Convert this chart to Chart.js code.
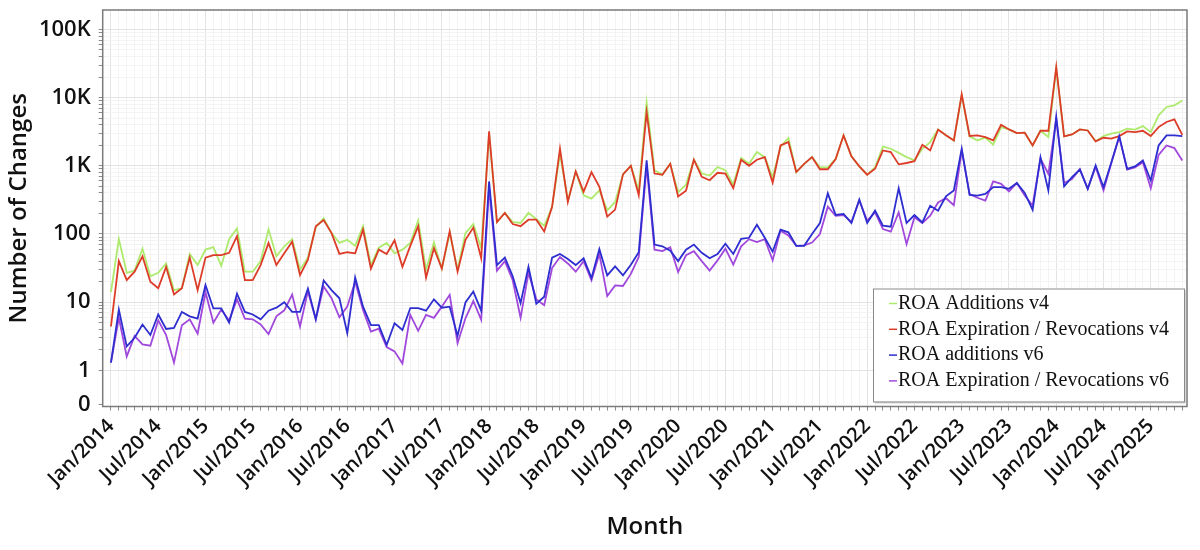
<!DOCTYPE html>
<html>
<head>
<meta charset="utf-8">
<title>ROA changes per month</title>
<script src="https://cdn.jsdelivr.net/npm/chart.js@4/dist/chart.umd.min.js"></script>
<style>
  html, body { margin: 0; padding: 0; background: #fff; }
  #wrap { width: 1200px; height: 550px; }
</style>
</head>
<body>
<div id="wrap"><canvas id="roa-chart" width="1200" height="550"></canvas></div>
<script>
// Data

const months = [
	"Jan/2014", "Feb/2014", "Mar/2014", "Apr/2014", "May/2014", "Jun/2014", "Jul/2014", "Aug/2014", "Sep/2014", "Oct/2014", "Nov/2014", "Dec/2014",
	"Jan/2015", "Feb/2015", "Mar/2015", "Apr/2015", "May/2015", "Jun/2015", "Jul/2015", "Aug/2015", "Sep/2015", "Oct/2015", "Nov/2015", "Dec/2015",
	"Jan/2016", "Feb/2016", "Mar/2016", "Apr/2016", "May/2016", "Jun/2016", "Jul/2016", "Aug/2016", "Sep/2016", "Oct/2016", "Nov/2016", "Dec/2016",
	"Jan/2017", "Feb/2017", "Mar/2017", "Apr/2017", "May/2017", "Jun/2017", "Jul/2017", "Aug/2017", "Sep/2017", "Oct/2017", "Nov/2017", "Dec/2017",
	"Jan/2018", "Feb/2018", "Mar/2018", "Apr/2018", "May/2018", "Jun/2018", "Jul/2018", "Aug/2018", "Sep/2018", "Oct/2018", "Nov/2018", "Dec/2018",
	"Jan/2019", "Feb/2019", "Mar/2019", "Apr/2019", "May/2019", "Jun/2019", "Jul/2019", "Aug/2019", "Sep/2019", "Oct/2019", "Nov/2019", "Dec/2019",
	"Jan/2020", "Feb/2020", "Mar/2020", "Apr/2020", "May/2020", "Jun/2020", "Jul/2020", "Aug/2020", "Sep/2020", "Oct/2020", "Nov/2020", "Dec/2020",
	"Jan/2021", "Feb/2021", "Mar/2021", "Apr/2021", "May/2021", "Jun/2021", "Jul/2021", "Aug/2021", "Sep/2021", "Oct/2021", "Nov/2021", "Dec/2021",
	"Jan/2022", "Feb/2022", "Mar/2022", "Apr/2022", "May/2022", "Jun/2022", "Jul/2022", "Aug/2022", "Sep/2022", "Oct/2022", "Nov/2022", "Dec/2022",
	"Jan/2023", "Feb/2023", "Mar/2023", "Apr/2023", "May/2023", "Jun/2023", "Jul/2023", "Aug/2023", "Sep/2023", "Oct/2023", "Nov/2023", "Dec/2023",
	"Jan/2024", "Feb/2024", "Mar/2024", "Apr/2024", "May/2024", "Jun/2024", "Jul/2024", "Aug/2024", "Sep/2024", "Oct/2024", "Nov/2024", "Dec/2024",
	"Jan/2025", "Feb/2025", "Mar/2025", "Apr/2025", "May/2025",
];

const additionsV4 = [
	14, 84, 27, 29, 61, 24, 27, 37, 15, 16,
	51, 35, 59, 64, 34, 84, 121, 28, 28, 40,
	117, 47, 66, 84, 30, 45, 126, 170, 103, 74,
	82, 67, 130, 35, 63, 74, 52, 59, 74, 157,
	30, 76, 31, 103, 30, 103, 140, 62, 2900, 150,
	204, 150, 145, 204, 165, 132, 250, 1500, 310, 830,
	370, 330, 435, 222, 295, 750, 1000, 435, 8500, 860,
	740, 1070, 410, 530, 1230, 770, 720, 960, 860, 530,
	1300, 1070, 1590, 1340, 680, 1890, 2570, 810, 1070, 1340,
	950, 950, 1260, 2800, 1380, 980, 740, 950, 1910, 1780,
	1550, 1340, 1200, 1780, 2230, 3400, 2800, 2350, 10800, 2700,
	2360, 2600, 2040, 3700, 3420, 3020, 3060, 1990, 3270, 2640,
	26600, 2700, 2890, 3420, 3300, 2300, 2730, 2960, 3120, 3500,
	3400, 3830, 3120, 5500, 7300, 7700, 9100,
];

const expirationsV4 = [
	4.4, 40, 21, 28, 47, 20, 16, 33, 13, 16,
	45, 15, 45, 49, 49, 53, 93, 21, 21, 35,
	74, 35, 52, 77, 25, 42, 130, 160, 103, 51,
	54, 52, 116, 31, 59, 51, 81, 33, 67, 130,
	23, 62, 31, 110, 28, 82, 124, 44, 3200, 150,
	204, 140, 130, 162, 162, 109, 250, 1780, 295, 830,
	415, 810, 490, 180, 228, 750, 1000, 370, 6150, 770,
	740, 1070, 355, 430, 1230, 690, 615, 790, 770, 470,
	1230, 1000, 1230, 1340, 565, 1990, 2230, 810, 1070, 1340,
	890, 890, 1260, 2800, 1380, 980, 740, 905, 1680, 1590,
	1050, 1100, 1170, 2030, 1680, 3400, 2800, 2350, 11200, 2740,
	2800, 2640, 2360, 4000, 3420, 3020, 3060, 1990, 3270, 3270,
	28000, 2700, 2890, 3420, 3300, 2280, 2580, 2500, 2730, 3200,
	3120, 3270, 2730, 3700, 4400, 4800, 2850,
];

const additionsV6 = [
	1.3, 7.8, 2.25, 3.0, 4.7, 3.3, 6.6, 4.05, 4.2, 7.2,
	6.2, 5.75, 17.8, 8.1, 8.1, 5.0, 13.3, 7.2, 6.6, 5.6,
	7.5, 8.3, 10, 7.2, 7.2, 15.8, 5.6, 20.8, 15, 11.4,
	3.5, 23, 8.6, 4.6, 4.6, 2.35, 4.9, 3.9, 8.2, 8.2,
	7.5, 11, 8.3, 8.6, 3.2, 9.9, 14.3, 7.5, 590, 35,
	45, 24, 9.7, 33, 9.5, 12, 45, 51, 43, 35,
	44, 22.6, 60, 24.7, 33.6, 24.7, 35.5, 54, 1200, 70,
	66, 57, 40, 59, 70, 53, 44, 51, 72, 51,
	85, 88, 137, 88, 55, 116, 106, 67, 67, 100,
	145, 395, 190, 197, 145, 320, 145, 220, 133, 128,
	470, 145, 190, 148, 260, 220, 357, 435, 1770, 375,
	365, 388, 486, 486, 460, 560, 400, 226, 1340, 435,
	5200, 500, 680, 880, 460, 1010, 486, 1130, 2730, 900,
	980, 1200, 610, 1990, 2800, 2800, 2730,
];

const expirationsV6 = [
	1.3, 5.9, 1.6, 3.2, 2.4, 2.3, 5.4, 3.3, 1.3, 4.6,
	5.6, 3.45, 14, 5.0, 7.8, 5.4, 11, 5.75, 5.6, 4.7,
	3.4, 6.2, 7.6, 12.9, 4.4, 14.5, 5.6, 17, 11.4, 6.0,
	8.6, 20, 7.7, 3.7, 4.1, 2.2, 1.9, 1.26, 6.5, 3.8,
	6.5, 5.9, 8.6, 12.8, 2.5, 5.8, 10.4, 5.5, 480, 29,
	40, 21, 5.9, 27, 11, 9.0, 31.7, 46, 37, 28,
	40, 21, 51, 12.3, 17.6, 17.3, 26, 46, 1000, 59,
	56, 64, 27.6, 49, 56, 40, 29, 41, 61, 35.5,
	66, 84, 76, 84, 41, 112, 95, 67, 68, 75,
	100, 252, 185, 190, 150, 310, 157, 208, 118, 108,
	208, 71, 176, 145, 185, 290, 335, 265, 1680, 385,
	340, 310, 590, 545, 420, 560, 366, 262, 1270, 765,
	4900, 560, 640, 900, 460, 960, 435, 1100, 2640, 880,
	950, 1130, 470, 1450, 1990, 1820, 1200,
];

// y ticks: the "0" row sits half a decade under 1
const yTickValues = [0.3162, 1, 10, 100, 1000, 10000, 100000];
const yTickLabels = ["0", "1", "10", "100", "1K", "10K", "100K"];

const seriesNames = [
	"ROA Additions v4",
	"ROA Expiration / Revocations v4",
	"ROA additions v6",
	"ROA Expiration / Revocations v6",
];
const seriesColors = ["#aeea6e", "#dc3c28", "#2e2ed0", "#a048dc"];

const yMin = 0.295;
const yMax = 193000;

//Plugins

const plotFrame = {
	id: "plotFrame",
	afterDraw(chart) {
		const { ctx, chartArea: a } = chart;
		ctx.save();
		ctx.strokeStyle = "#7a7a7a";
		ctx.lineWidth = 1.5;
		ctx.strokeRect(a.left, a.top, a.right - a.left, a.bottom - a.top);
		ctx.restore();
	},
};

const legendBox = {
	id: "legendBox",
	afterDraw(chart) {
		const { ctx, chartArea: a } = chart;
		const w = 311;
		const h = 113;
		const x = a.right - 3 - w;
		const y = a.bottom - 5 - h;
		ctx.save();
		ctx.fillStyle = "#d8d8d8";
		ctx.fillRect(x + 2, y + 2, w, h);
		ctx.fillStyle = "#fff";
		ctx.fillRect(x, y, w, h);
		ctx.strokeStyle = "#8a8a8a";
		ctx.lineWidth = 1;
		ctx.strokeRect(x + 0.5, y + 0.5, w, h);
		ctx.font = '20px "Liberation Serif"';
		ctx.textBaseline = "middle";
		chart.data.datasets.forEach((ds, i) => {
			const cy = y + 15 + i * 25.8;
			ctx.strokeStyle = ds.borderColor;
			ctx.lineWidth = 1.5;
			ctx.beginPath();
			ctx.moveTo(x + 16, cy);
			ctx.lineTo(x + 24, cy);
			ctx.stroke();
			ctx.fillStyle = "#111";
			ctx.fillText(ds.label, x + 25, cy);
		});
		ctx.restore();
	},
};

//Chart

const allSeries = [additionsV4, expirationsV4, additionsV6, expirationsV6];
const drawOrder = [4, 3, 1, 2];

const datasets = allSeries.map((values, s) => ({
	label: seriesNames[s],
	data: values.map((v, i) => ({ x: i, y: v })),
	borderColor: seriesColors[s],
	backgroundColor: seriesColors[s],
	borderWidth: 1.8,
	pointRadius: 0,
	tension: 0,
	order: drawOrder[s],
}));

// minor grid rows 2..9 of each decade, inside the axis range
const yMinor = [];
for (let d = 1; d <= 100000; d *= 10) {
	for (let k = 2; k <= 9; k++) {
		if (d * k < yMax) yMinor.push(d * k);
	}
}

const ctx = document.getElementById("roa-chart").getContext("2d");

const config = {
	type: "line",
	data: { datasets: datasets },
	options: {
		responsive: false,
		animation: false,
		devicePixelRatio: 1,
		layout: { padding: { left: 4, top: 10, right: 13, bottom: 0 } },
		plugins: {
			legend: { display: false },
			tooltip: { enabled: false },
		},
		scales: {
			x: {
				type: "linear",
				min: -1.05,
				max: 136.6,
				afterBuildTicks: (scale) => {
					scale.ticks = months.map((m, i) => ({ value: i }));
				},
				afterFit: (scale) => {
					scale.height = 143.5;
					scale.paddingLeft = 0;
					scale.paddingRight = 0;
				},
				ticks: {
					autoSkip: false,
					minRotation: 45,
					maxRotation: 45,
					padding: 4,
					color: "#111",
					font: { family: "Open Sans", size: 20, weight: 600 },
					callback: (value) => (value % 6 === 0 ? months[value] : ""),
				},
				grid: {
					color: (c) => (c.tick && c.tick.value % 6 === 0 ? "#e3e3e3" : "#f3f3f3"),
					tickColor: "#8a8a8a",
					tickLength: 4,
				},
				border: { display: false },
				title: {
					display: true,
					text: "Month",
					color: "#111",
					font: { family: "Open Sans", size: 24, weight: 600 },
					padding: { top: 0, bottom: 8 },
				},
			},
			y: {
				type: "logarithmic",
				min: yMin,
				max: yMax,
				afterBuildTicks: (scale) => {
					const vals = yTickValues.concat(yMinor).sort((a, b) => a - b);
					scale.ticks = vals.map((v) => ({ value: v }));
				},
				afterFit: (scale) => {
					scale.width = 98.7;
					scale.paddingTop = 0;
					scale.paddingBottom = 0;
				},
				ticks: {
					autoSkip: false,
					padding: 8,
					color: "#111",
					font: { family: "Open Sans", size: 22, weight: 600 },
					callback: (value) => {
						const k = yTickValues.indexOf(value);
						return k >= 0 ? yTickLabels[k] : "";
					},
				},
				grid: {
					color: (c) => {
						if (!c.tick) return "#f3f3f3";
						const v = c.tick.value;
						if (v === yTickValues[0]) return "rgba(0,0,0,0)";
						return yTickValues.includes(v) ? "#e3e3e3" : "#f3f3f3";
					},
					tickColor: "#8a8a8a",
					tickLength: 4,
				},
				border: { display: false },
				title: {
					display: true,
					text: "Number of Changes",
					color: "#111",
					font: { family: "Open Sans", size: 24, weight: 600 },
					padding: { top: 1, bottom: 0 },
				},
			},
		},
	},
	plugins: [plotFrame, legendBox],
};

const chart = new Chart(ctx, config);
</script>
</body>
</html>
